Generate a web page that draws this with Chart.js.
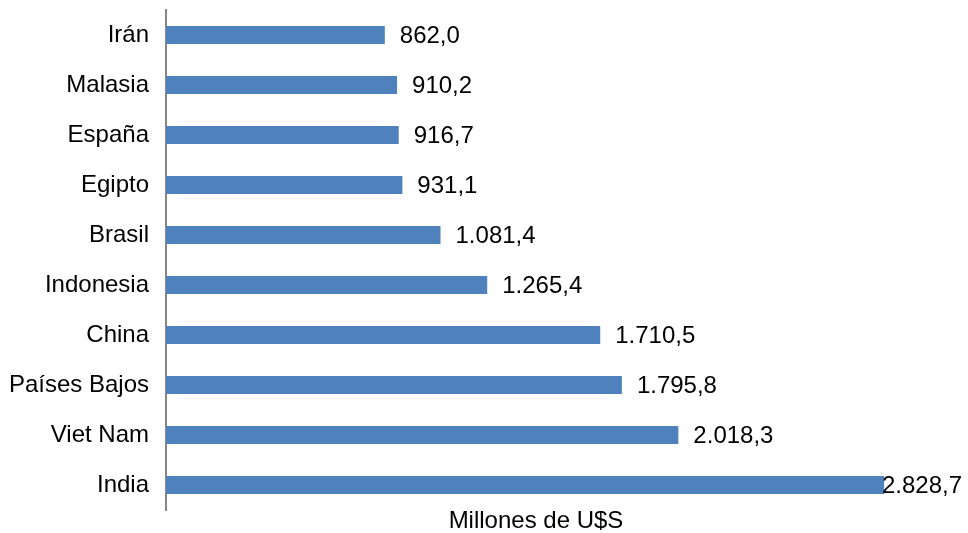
<!DOCTYPE html>
<html lang="es">
<head>
    <meta charset="UTF-8">
    <title>Millones de U$S por país</title>
    <script src="https://cdn.jsdelivr.net/npm/chart.js"></script>
    <style>
        body {
            margin: 0;
            background: white;
        }
        #wrap {
            width: 968px;
            height: 533px;
        }
    </style>
</head>
<body>
    <div id="wrap"><canvas id="barChart"></canvas></div>

    <script>
        const countries = ['Irán', 'Malasia', 'España', 'Egipto', 'Brasil', 'Indonesia', 'China', 'Países Bajos', 'Viet Nam', 'India'];
        const values = [862.0, 910.2, 916.7, 931.1, 1081.4, 1265.4, 1710.5, 1795.8, 2018.3, 2828.7];
        const axisTitle = 'Millones de U$S';

        const FONT = "'Liberation Sans', Arial, sans-serif";

        // 1.081,4 style
        function formatEs(v) {
            const parts = v.toFixed(1).split('.');
            const intPart = parts[0].replace(/\B(?=(\d{3})+(?!\d))/g, '.');
            return intPart + ',' + parts[1];
        }

        // value labels to the right of each bar
        const valueLabels = {
            id: 'valueLabels',
            afterDatasetsDraw(chart) {
                const ctx = chart.ctx;
                const meta = chart.getDatasetMeta(0);
                ctx.save();
                ctx.font = '24px ' + FONT;
                ctx.fillStyle = '#000';
                ctx.textBaseline = 'middle';
                ctx.textAlign = 'left';
                meta.data.forEach((bar, i) => {
                    const text = formatEs(values[i]);
                    const w = ctx.measureText(text).width;
                    let x = bar.x + 15;
                    if (x + w > chart.width - 6) x = chart.width - 6 - w;
                    ctx.fillText(text, x, bar.y + 1);
                });
                ctx.restore();
            }
        };

        new Chart(document.getElementById('barChart'), {
            type: 'bar',
            data: {
                labels: countries,
                datasets: [{
                    data: values,
                    backgroundColor: '#4f81bd',
                    categoryPercentage: 1,
                    barPercentage: 0.36
                }]
            },
            options: {
                indexAxis: 'y',
                responsive: true,
                maintainAspectRatio: false,
                animation: false,
                layout: {
                    padding: { top: 10, right: 62, bottom: 0, left: 0 }
                },
                plugins: {
                    legend: { display: false },
                    tooltip: { enabled: false }
                },
                scales: {
                    x: {
                        min: 0,
                        max: 2915,
                        grid: { display: false },
                        border: { display: false },
                        ticks: { display: false },
                        title: {
                            display: true,
                            text: axisTitle,
                            color: '#000',
                            font: { family: FONT, size: 24, lineHeight: 1 },
                            padding: 0
                        },
                        afterFit(scale) {
                            scale.height = 23;
                            scale.paddingLeft = 0;
                            scale.paddingRight = 0;
                        }
                    },
                    y: {
                        grid: { display: false },
                        border: { display: true, color: '#868686', width: 2 },
                        ticks: {
                            color: '#000',
                            padding: 9,
                            font: { family: FONT, size: 24 }
                        },
                        afterFit(scale) {
                            scale.width = 166;
                            scale.paddingTop = 0;
                            scale.paddingBottom = 0;
                        }
                    }
                }
            },
            plugins: [valueLabels]
        });
    </script>
</body>
</html>
